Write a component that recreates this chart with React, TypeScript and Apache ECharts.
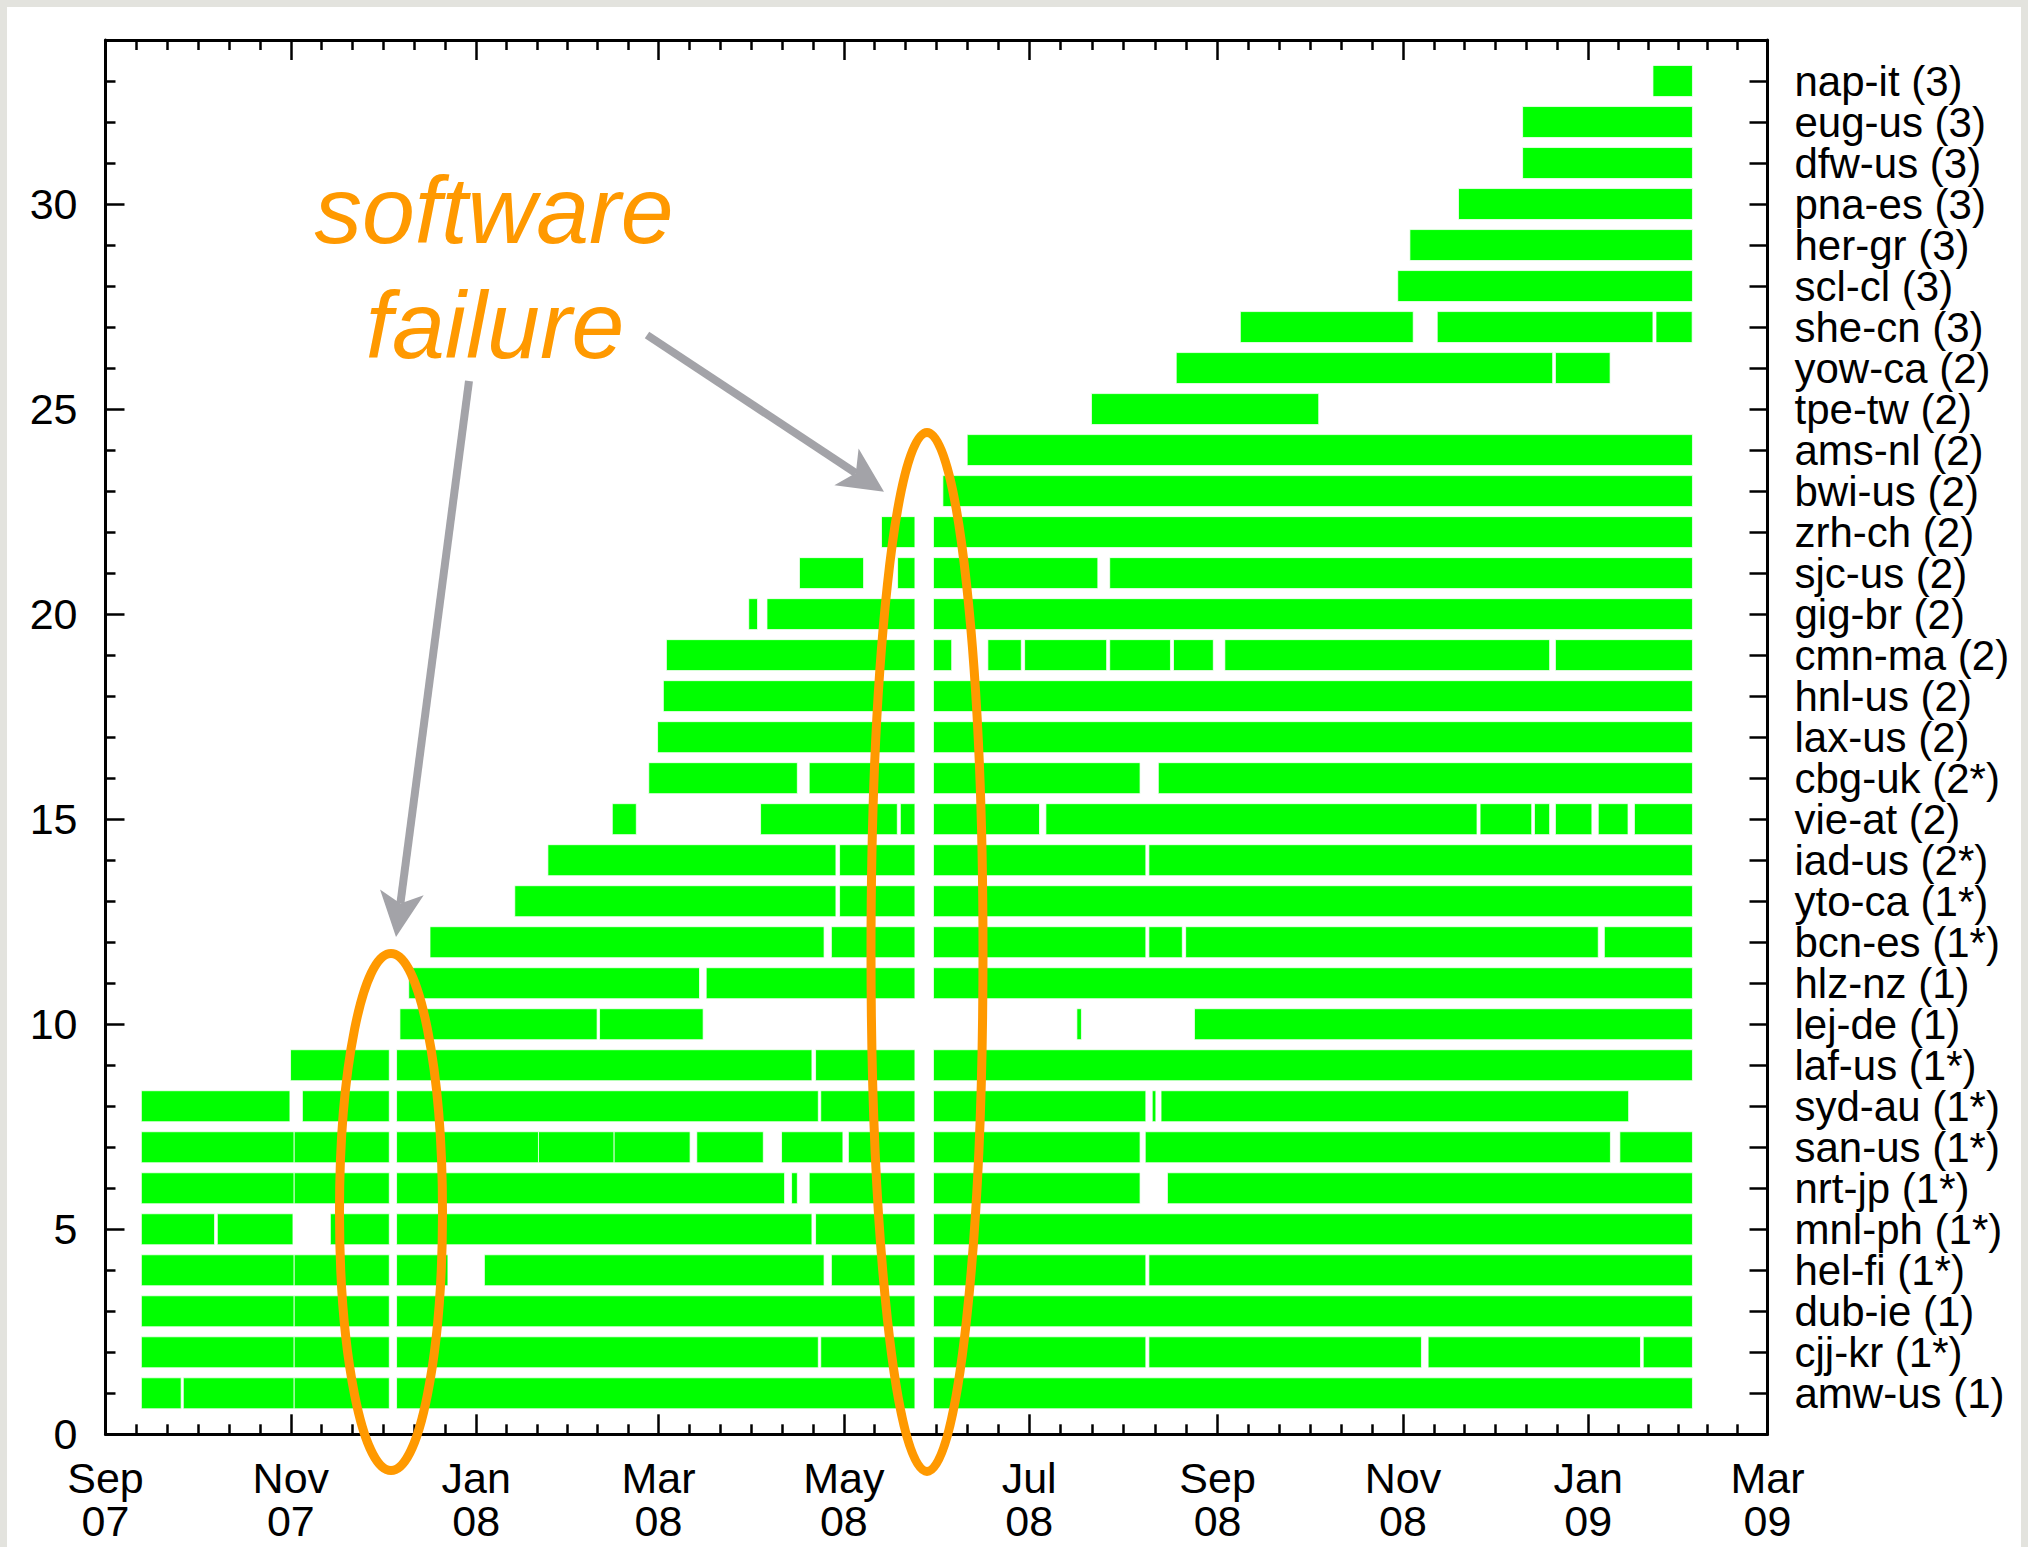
import React, { useEffect, useRef } from 'react';
import * as echarts from 'echarts';

// ---- x axis: days since 2007-09-01 ----
const START = Date.UTC(2007, 8, 1);
const DAY = 86400000;
const dayOf = (iso: string) => {
  const [y, m, d] = iso.split('-').map(Number);
  return (Date.UTC(y, m - 1, d) - START) / DAY;
};

const tickDates = [
  '2007-09-01', '2007-11-01', '2008-01-01', '2008-03-01', '2008-05-01',
  '2008-07-01', '2008-09-01', '2008-11-01', '2009-01-01', '2009-03-01',
];
const tickMonths = ['Sep', 'Nov', 'Jan', 'Mar', 'May', 'Jul', 'Sep', 'Nov', 'Jan', 'Mar'];
const tickYears = ['07', '07', '08', '08', '08', '08', '08', '08', '09', '09'];
const leftTicks = [0, 5, 10, 15, 20, 25, 30];

// sites, bottom (row 1) to top (row 33)
const sites = [
  'amw-us (1)', 'cjj-kr (1*)', 'dub-ie (1)', 'hel-fi (1*)', 'mnl-ph (1*)', 'nrt-jp (1*)',
  'san-us (1*)', 'syd-au (1*)', 'laf-us (1*)', 'lej-de (1)', 'hlz-nz (1)', 'bcn-es (1*)',
  'yto-ca (1*)', 'iad-us (2*)', 'vie-at (2)', 'cbg-uk (2*)', 'lax-us (2)', 'hnl-us (2)',
  'cmn-ma (2)', 'gig-br (2)', 'sjc-us (2)', 'zrh-ch (2)', 'bwi-us (2)', 'ams-nl (2)',
  'tpe-tw (2)', 'yow-ca (2)', 'she-cn (3)', 'scl-cl (3)', 'her-gr (3)', 'pna-es (3)',
  'dfw-us (3)', 'eug-us (3)', 'nap-it (3)',
];

// up periods per site: [start, end] in days since 2007-09-01
const amwUs = [[11.8, 24.9], [25.6, 62.1], [62.1, 93.4], [95.8, 266.4], [272.5, 522.3]];
const cjjKr = [[11.8, 62.1], [62.1, 93.4], [95.8, 234.6], [235.4, 266.4], [272.5, 342.4], [343.4, 433.1], [435.3, 505.2], [506.1, 522.3]];
const dubIe = [[11.8, 62.1], [62.1, 93.4], [95.8, 266.4], [272.5, 522.3]];
const helFi = [[11.8, 62.1], [62.1, 93.4], [95.8, 112.7], [124.7, 236.5], [238.9, 266.4], [272.5, 342.4], [343.4, 522.3]];
const mnlPh = [[11.8, 35.9], [36.8, 61.7], [74.0, 93.4], [95.8, 232.5], [233.7, 266.4], [272.5, 522.3]];
const nrtJp = [[11.8, 62.1], [62.1, 93.4], [95.8, 223.5], [225.8, 227.7], [231.6, 266.4], [272.5, 340.5], [349.5, 522.3]];
const sanUs = [[11.8, 62.1], [62.1, 93.4], [95.8, 142.5], [142.5, 167.4], [167.4, 192.4], [194.6, 216.5], [222.5, 242.7], [244.5, 266.4], [272.5, 340.5], [342.2, 495.3], [498.4, 522.3]];
const sydAu = [[11.8, 60.7], [64.8, 93.4], [95.8, 234.6], [235.4, 266.4], [272.5, 342.4], [344.5, 345.7], [347.4, 501.3]];
const lafUs = [[60.9, 93.4], [95.8, 232.5], [233.7, 266.4], [272.5, 522.3]];
const lejDe = [[96.9, 161.8], [162.6, 196.7], [319.7, 321.2], [358.4, 522.3]];
const hlzNz = [[99.8, 195.5], [197.7, 266.4], [272.5, 522.3]];
const bcnEs = [[106.8, 236.5], [238.9, 266.4], [272.5, 342.4], [343.4, 354.4], [355.5, 491.3], [493.3, 522.3]];
const ytoCa = [[134.7, 240.4], [241.6, 266.4], [272.5, 522.3]];
const iadUs = [[145.6, 240.4], [241.6, 266.4], [272.5, 342.4], [343.4, 522.3]];
const vieAt = [[166.8, 174.7], [215.6, 260.6], [261.6, 266.4], [272.5, 307.4], [309.5, 451.4], [452.4, 469.4], [470.3, 475.3], [477.2, 489.2], [491.3, 501.1], [503.2, 522.3]];
const cbgUk = [[178.8, 227.7], [231.6, 266.4], [272.5, 340.5], [346.5, 522.3]];
const laxUs = [[181.7, 266.4], [272.5, 522.3]];
const hnlUs = [[183.6, 266.4], [272.5, 522.3]];
const cmnMa = [[184.6, 266.4], [272.5, 278.5], [290.4, 301.4], [302.5, 329.5], [330.5, 350.5], [351.5, 364.6], [368.4, 475.3], [477.2, 522.3]];
const gigBr = [[211.7, 214.6], [217.7, 266.4], [272.5, 522.3]];
const sjcUs = [[228.4, 249.5], [260.7, 266.4], [272.5, 326.6], [330.5, 522.3]];
const zrhCh = [[255.4, 266.4], [272.5, 522.3]];
const bwiUs = [[275.6, 522.3]];
const amsNl = [[283.6, 522.3]];
const tpeTw = [[324.5, 399.3]];
const yowCa = [[352.4, 476.3], [477.2, 495.2]];
const sheCn = [[373.5, 430.4], [438.3, 509.3], [510.3, 522.2]];
const sclCl = [[425.3, 522.3]];
const herGr = [[429.3, 522.3]];
const pnaEs = [[445.3, 522.3]];
const dfwUs = [[466.4, 522.3]];
const eugUs = [[466.4, 522.3]];
const napIt = [[509.3, 522.3]];

const uptime = [
  amwUs, cjjKr, dubIe, helFi, mnlPh, nrtJp, sanUs, sydAu, lafUs, lejDe, hlzNz, bcnEs,
  ytoCa, iadUs, vieAt, cbgUk, laxUs, hnlUs, cmnMa, gigBr, sjcUs, zrhCh, bwiUs, amsNl,
  tpeTw, yowCa, sheCn, sclCl, herGr, pnaEs, dfwUs, eugUs, napIt,
];

const ORANGE = '#ff9900';
const GRAY = '#a3a3a8';
const FONT = 'Liberation Sans';

function arrow(x0: number, y0: number, x1: number, y1: number) {
  const dx = x1 - x0, dy = y1 - y0;
  const len = Math.hypot(dx, dy);
  const ux = dx / len, uy = dy / len;
  const nx = -uy, ny = ux;
  const L = 45, W = 22;
  const bx = x1 - L * ux, by = y1 - L * uy;
  const nX = x1 - 0.75 * L * ux, nY = y1 - 0.75 * L * uy;
  return [
    { type: 'line', z: 100, shape: { x1: x0, y1: y0, x2: nX, y2: nY }, style: { stroke: GRAY, lineWidth: 8 } },
    {
      type: 'polygon', z: 100,
      shape: { points: [[x1, y1], [bx + W * nx, by + W * ny], [nX, nY], [bx - W * nx, by - W * ny]] },
      style: { fill: GRAY },
    },
  ];
}

export default function App() {
  const ref = useRef<HTMLDivElement>(null);
  useEffect(() => {
    const chart = echarts.init(ref.current!, null, { renderer: 'svg' });
    const majorDays = tickDates.map(dayOf);
    const minorDays: number[] = [];
    for (let i = 0; i < majorDays.length - 1; i++) {
      for (let k = 1; k < 6; k++) minorDays.push(majorDays[i] + ((majorDays[i + 1] - majorDays[i]) * k) / 6);
    }
    const rows = sites.map((_, i) => i + 1);
    const leftMinor = rows.filter((r) => r % 5 !== 0);
    const data: number[][] = [];
    uptime.forEach((segs, i) => segs.forEach(([s, e]) => data.push([i + 1, s, e])));
    const xMin = majorDays[0], xMax = majorDays[majorDays.length - 1];
    // right axis as category: positions 0..34, sites at 1..33
    const rightCats = [' ', ...sites, '  '];

    const lineStyle = { color: '#000', width: 3 };
    const tickStyle = { color: '#000', width: 2.5 };
    const label = { color: '#000', fontSize: 43, fontFamily: FONT };

    const xBase = (pos: string) => ({
      type: 'value', min: xMin, max: xMax, position: pos, splitLine: { show: false },
    });
    const yBase = (pos: string) => ({
      type: 'value', min: 0, max: 34, position: pos, splitLine: { show: false },
    });

    chart.setOption({
      animation: false,
      backgroundColor: '#ffffff',
      textStyle: { fontFamily: FONT },
      grid: { left: 105.5, top: 40, width: 1662, height: 1394.3, outerBoundsMode: 'none' },
      xAxis: [
        {
          ...xBase('bottom'),
          axisLine: { show: true, onZero: false, lineStyle },
          axisTick: { show: true, inside: true, length: 20, lineStyle: tickStyle, customValues: majorDays },
          axisLabel: {
            ...label, lineHeight: 43, margin: 22, customValues: majorDays,
            showMinLabel: true, showMaxLabel: true,
            formatter: (v: number) => {
              const i = majorDays.findIndex((d) => Math.abs(d - v) < 0.01);
              return i < 0 ? '' : tickMonths[i] + '\n' + tickYears[i];
            },
          },
        },
        {
          ...xBase('top'),
          axisLine: { show: true, onZero: false, lineStyle },
          axisTick: { show: true, inside: true, length: 20, lineStyle: tickStyle, customValues: majorDays },
          axisLabel: { show: false },
        },
        {
          ...xBase('bottom'),
          axisLine: { show: false, onZero: false },
          axisTick: { show: true, inside: true, length: 10, lineStyle: tickStyle, customValues: minorDays },
          axisLabel: { show: false },
        },
        {
          ...xBase('top'),
          axisLine: { show: false, onZero: false },
          axisTick: { show: true, inside: true, length: 10, lineStyle: tickStyle, customValues: minorDays },
          axisLabel: { show: false },
        },
      ],
      yAxis: [
        {
          ...yBase('left'),
          axisLine: { show: true, onZero: false, lineStyle },
          axisTick: { show: true, inside: true, length: 19, lineStyle: tickStyle, customValues: leftTicks },
          axisLabel: { ...label, margin: 28, customValues: leftTicks, showMinLabel: true, showMaxLabel: true },
        },
        {
          ...yBase('left'),
          axisLine: { show: false, onZero: false },
          axisTick: { show: true, inside: true, length: 10, lineStyle: tickStyle, customValues: leftMinor },
          axisLabel: { show: false },
        },
        {
          type: 'category',
          position: 'right',
          data: rightCats,
          boundaryGap: false,
          splitLine: { show: false },
          axisLine: { show: true, onZero: false, lineStyle },
          axisTick: {
            show: true, inside: true, length: 18, lineStyle: tickStyle,
            interval: (idx: number) => idx > 0 && idx < rightCats.length - 1,
          },
          axisLabel: { ...label, fontSize: 42, lineHeight: 41, margin: 27, interval: 0 },
        },
      ],
      series: [
        {
          type: 'custom',
          xAxisIndex: 0,
          yAxisIndex: 0,
          encode: { x: [1, 2], y: 0 },
          data,
          renderItem: (params: any, api: any) => {
            const row = api.value(0);
            const p0 = api.coord([api.value(1), row]);
            const p1 = api.coord([api.value(2), row]);
            const h = api.size([0, 0.755])[1];
            return {
              type: 'rect',
              shape: { x: p0[0], y: p0[1] - h / 2, width: p1[0] - p0[0], height: h },
              style: { fill: '#00ff00', stroke: 'rgba(255,255,255,0.75)', lineWidth: 1 },
            };
          },
        },
      ],
      graphic: [
        { type: 'rect', shape: { x: 0, y: 0, width: 2028, height: 7 }, style: { fill: '#e3e3de' } },
        { type: 'rect', shape: { x: 0, y: 0, width: 7, height: 1547 }, style: { fill: '#e3e3de' } },
        { type: 'rect', shape: { x: 2021, y: 0, width: 7, height: 1547 }, style: { fill: '#e3e3de' } },
        {
          type: 'ellipse', z: 100, shape: { cx: 391, cy: 1212, rx: 51.5, ry: 258.5 },
          style: { fill: 'none', stroke: ORANGE, lineWidth: 9 },
        },
        {
          type: 'ellipse', z: 100, shape: { cx: 927, cy: 952, rx: 56, ry: 519.5 },
          style: { fill: 'none', stroke: ORANGE, lineWidth: 9 },
        },
        ...arrow(469, 381, 396, 937),
        ...arrow(647, 335, 884, 491.7),
        {
          type: 'text', z: 100, x: 494, y: 210,
          style: {
            text: 'software', fill: ORANGE, font: 'italic 95px "Liberation Sans"',
            textAlign: 'center', textVerticalAlign: 'middle', verticalAlign: 'middle',
          },
        },
        {
          type: 'text', z: 100, x: 495, y: 325,
          style: {
            text: 'failure', fill: ORANGE, font: 'italic 95px "Liberation Sans"',
            textAlign: 'center', textVerticalAlign: 'middle', verticalAlign: 'middle',
          },
        },
      ],
    });
    return () => chart.dispose();
  }, []);
  return (
    <div
      ref={ref}
      style={{ position: 'fixed', left: 0, top: 0, width: 2028, height: 1547, background: '#fff' }}
    />
  );
}
